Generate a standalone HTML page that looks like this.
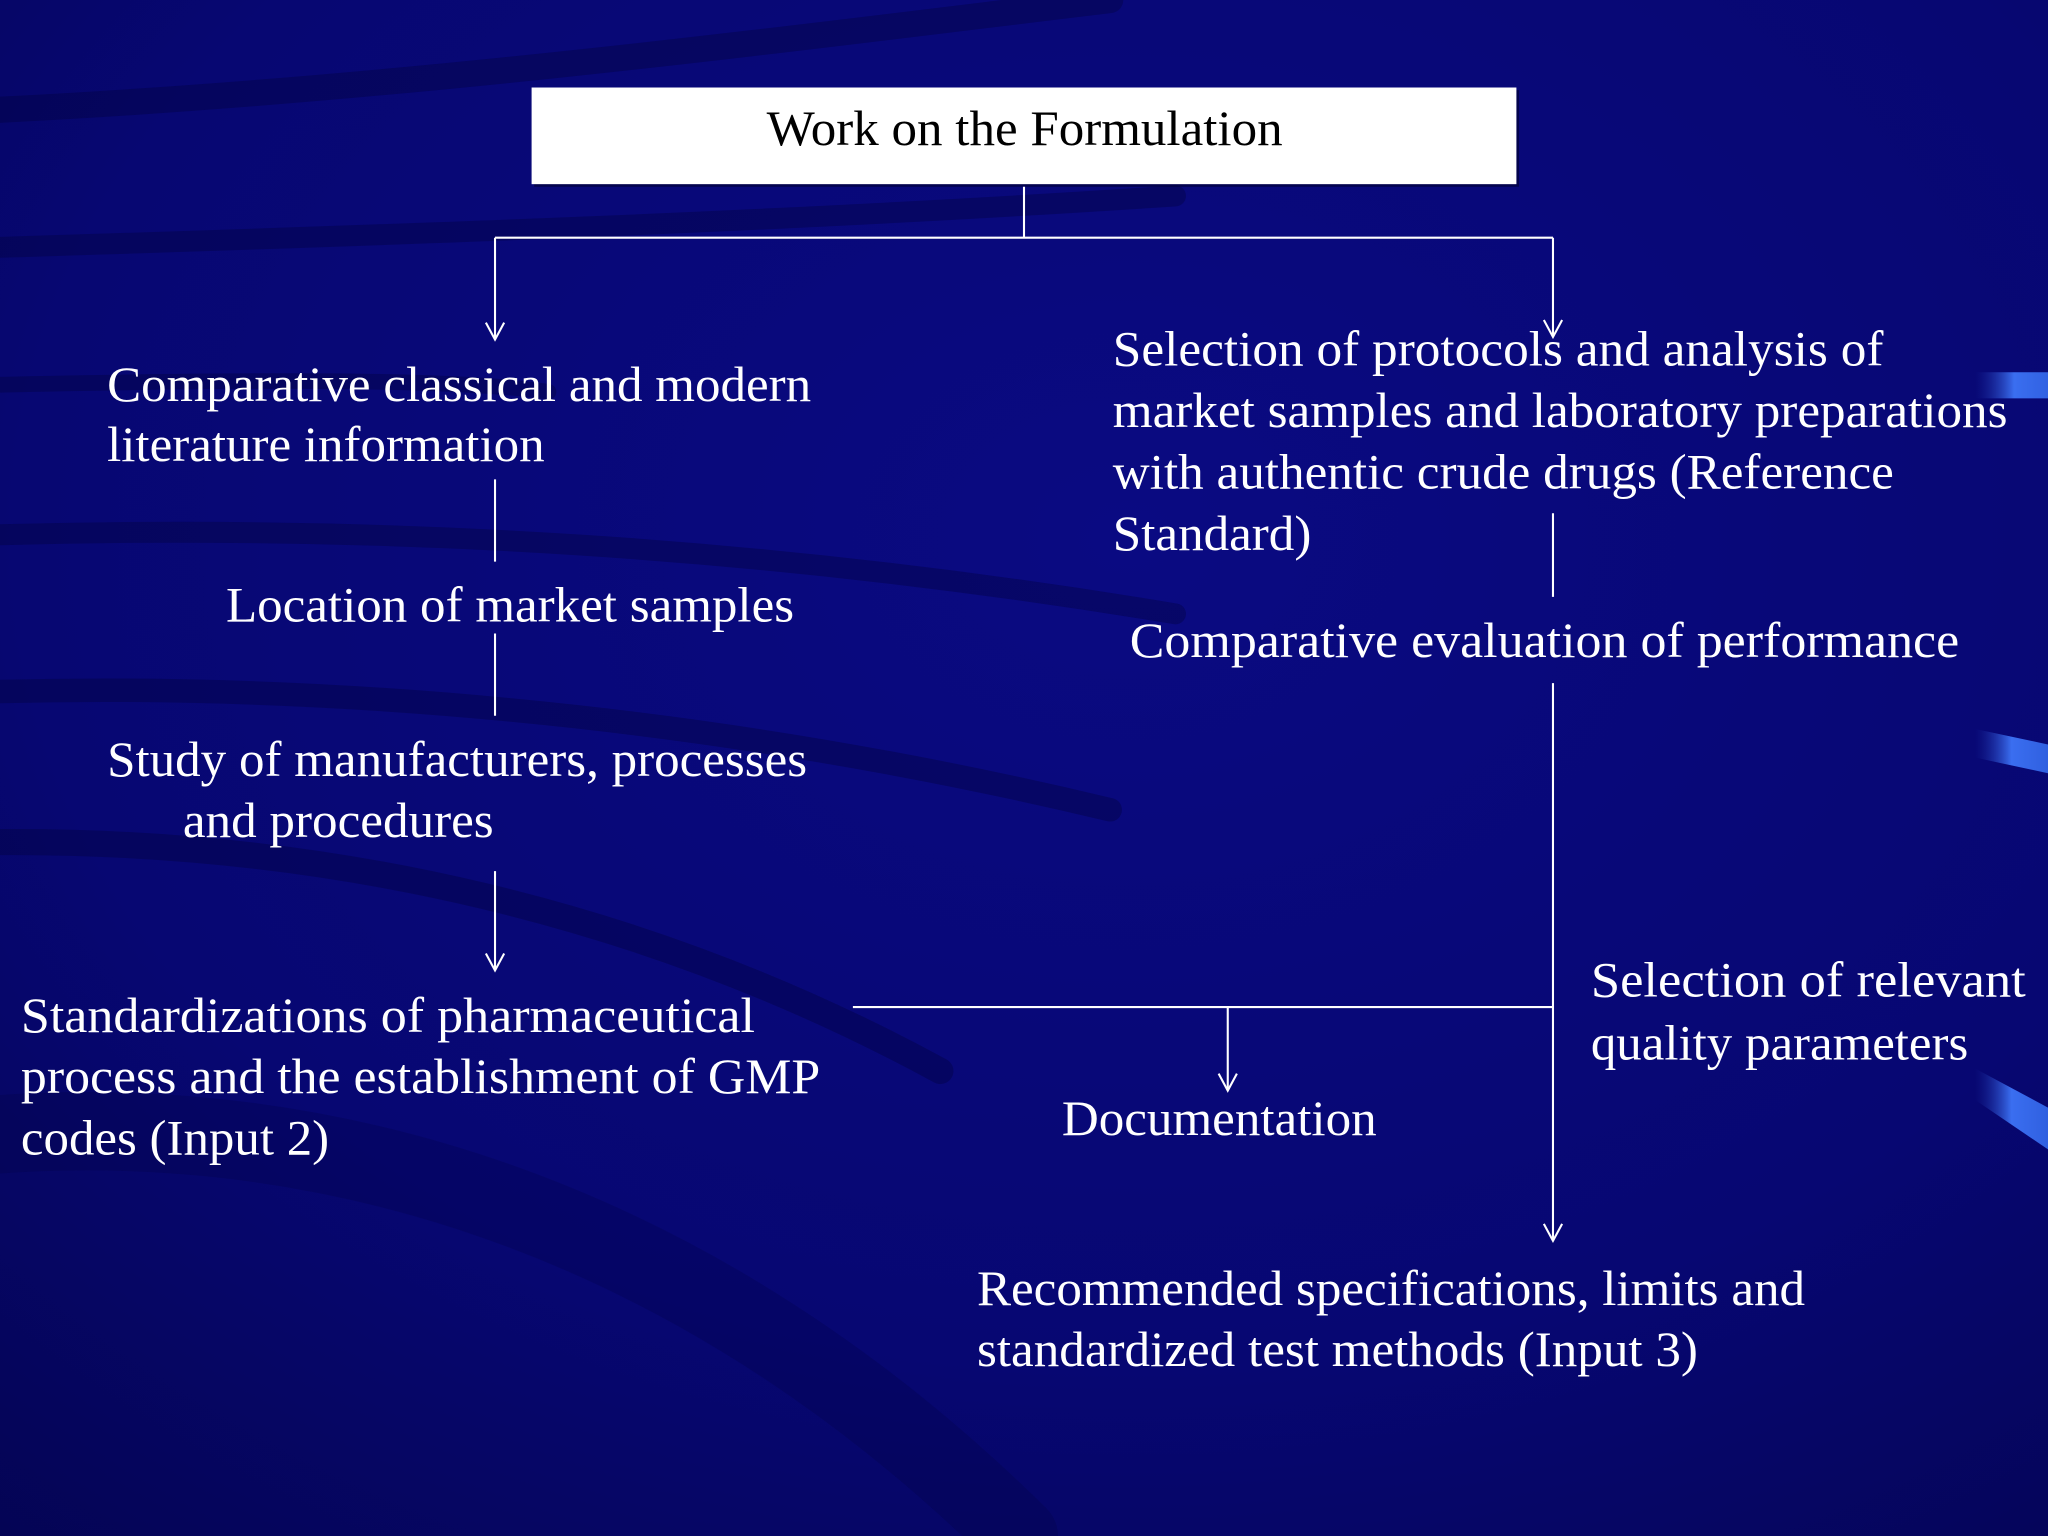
<!DOCTYPE html>
<html><head><meta charset="utf-8"><style>
html,body{margin:0;padding:0;background:#06066e;}
svg{display:block}
text{font-family:"Liberation Serif",serif;fill:#fff;font-size:38px}
</style></head><body>
<svg width="2048" height="1536" viewBox="0 0 1568 1176" xmlns="http://www.w3.org/2000/svg" xml:space="preserve">
<defs>
<radialGradient id="bg" cx="0.55" cy="0.35" r="0.9">
<stop offset="0" stop-color="#0a0a82"/>
<stop offset="0.6" stop-color="#070772"/>
<stop offset="1" stop-color="#040450"/>
</radialGradient>
<linearGradient id="blu" x1="0" x2="1"><stop offset="0" stop-color="#1a2a9a" stop-opacity="0"/><stop offset="0.5" stop-color="#3a6ef0"/><stop offset="1" stop-color="#3060e0"/></linearGradient>
</defs>
<rect width="1568" height="1176" fill="url(#bg)"/>
<g fill="none" stroke="#02023a" stroke-linecap="round" opacity="0.35">
<path d="M-20 85 C300 70 600 30 850 0" stroke-width="20"/>
<path d="M-20 190 C300 180 600 170 900 150" stroke-width="16"/>
<path d="M-20 295 C200 290 350 290 420 300" stroke-width="12"/>
<path d="M-20 410 C300 400 600 420 900 470" stroke-width="16"/>
<path d="M-20 530 C300 520 600 560 850 620" stroke-width="18"/>
<path d="M-20 645 C250 640 500 700 720 820" stroke-width="20"/>
<path d="M-20 870 C200 850 500 900 780 1176" stroke-width="60" opacity="0.6"/>
</g>
<rect x="1512" y="285" width="60" height="20" fill="url(#blu)"/>
<path d="M1512 558 L1568 570 L1568 592 L1512 580 Z" fill="url(#blu)"/>
<path d="M1512 818 L1568 848 L1568 880 L1512 842 Z" fill="url(#blu)"/>
<rect x="409" y="69" width="754" height="74" fill="#000030" opacity="0.6"/>
<rect x="407" y="67" width="754" height="74" fill="#fff"/>
<text x="587" y="111" style="fill:#000" textLength="395" lengthAdjust="spacingAndGlyphs">Work on the Formulation</text>
<g stroke="#fff" stroke-width="1.6" fill="none">
<path d="M784 143V182M379 182H1189M379 182V260M1189 182V258"/>
<path d="M379 367V430M379 485V548M379 667V743"/>
<path d="M1189 393V457M1189 523V950"/>
<path d="M653 771H1189M940 771V835"/>
<path d="M372 247L379 260L386 247M1182 245L1189 258L1196 245M372 730L379 743L386 730M1182 937L1189 950L1196 937M933 822L940 835L947 822"/>
</g>
<g>
<text x="82" y="307" textLength="539" lengthAdjust="spacingAndGlyphs">Comparative classical and modern</text>
<text x="82" y="353" textLength="335" lengthAdjust="spacingAndGlyphs">literature information</text>
<text x="173" y="476" textLength="435" lengthAdjust="spacingAndGlyphs">Location of market samples</text>
<text x="82" y="594" textLength="536" lengthAdjust="spacingAndGlyphs">Study of manufacturers, processes</text>
<text x="140" y="641" textLength="238" lengthAdjust="spacingAndGlyphs">and procedures</text>
<text x="16" y="790" textLength="562" lengthAdjust="spacingAndGlyphs">Standardizations of  pharmaceutical</text>
<text x="16" y="837" textLength="612" lengthAdjust="spacingAndGlyphs">process and the establishment of  GMP</text>
<text x="16" y="884" textLength="236" lengthAdjust="spacingAndGlyphs">codes (Input 2)</text>
<text x="852" y="280" textLength="590" lengthAdjust="spacingAndGlyphs">Selection of protocols and analysis of</text>
<text x="852" y="327" textLength="685" lengthAdjust="spacingAndGlyphs">market samples and laboratory preparations</text>
<text x="852" y="374" textLength="598" lengthAdjust="spacingAndGlyphs">with authentic crude drugs (Reference</text>
<text x="852" y="421" textLength="152" lengthAdjust="spacingAndGlyphs">Standard)</text>
<text x="865" y="503" textLength="635" lengthAdjust="spacingAndGlyphs">Comparative evaluation of  performance</text>
<text x="1218" y="763" textLength="333" lengthAdjust="spacingAndGlyphs">Selection of  relevant</text>
<text x="1218" y="811" textLength="289" lengthAdjust="spacingAndGlyphs">quality parameters</text>
<text x="813" y="869" textLength="241" lengthAdjust="spacingAndGlyphs">Documentation</text>
<text x="748" y="999" textLength="634" lengthAdjust="spacingAndGlyphs">Recommended specifications, limits and</text>
<text x="748" y="1046" textLength="552" lengthAdjust="spacingAndGlyphs">standardized test methods (Input 3)</text>
</g>
</svg>
</body></html>
